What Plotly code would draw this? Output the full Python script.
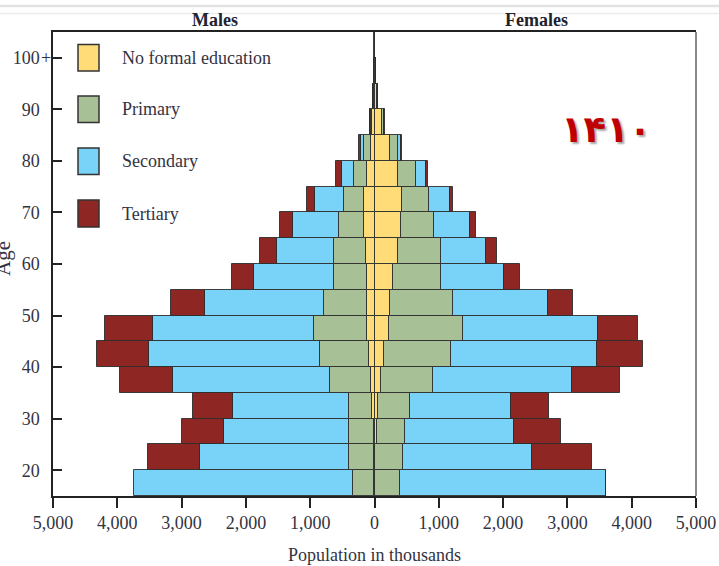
import plotly.graph_objects as go

# ---------------- data (thousands) ----------------
age_groups = ["15-19", "20-24", "25-29", "30-34", "35-39", "40-44", "45-49", "50-54",
              "55-59", "60-64", "65-69", "70-74", "75-79", "80-84", "85-89", "90-94",
              "95-99", "100+"]
age_mid = [17.5, 22.5, 27.5, 32.5, 37.5, 42.5, 47.5, 52.5, 57.5, 62.5, 67.5, 72.5,
           77.5, 82.5, 87.5, 92.5, 97.5, 102.5]

male_none =      [3, 15, 15, 37, 53, 78, 120, 120, 120, 135, 161, 161, 120, 57, 42, 15, 2, 0.5]
male_primary =   [337, 380, 379, 367, 637, 767, 827, 672, 517, 502, 389, 320, 206, 104, 20, 5, 1, 0]
male_secondary = [3400, 2320, 1941, 1792, 2447, 2660, 2500, 1838, 1233, 880, 714, 446, 182, 47, 7, 2, 0, 0]
male_tertiary =  [0, 810, 657, 621, 818, 807, 746, 533, 346, 269, 202, 124, 93, 40, 4, 0, 0, 0]

female_none =      [5, 15, 40, 55, 102, 155, 222, 243, 295, 362, 408, 424, 367, 242, 110, 45, 18, 3]
female_primary =   [395, 435, 435, 498, 814, 1030, 1154, 978, 739, 672, 517, 424, 274, 125, 35, 12, 5, 1]
female_secondary = [3200, 2003, 1690, 1564, 2159, 2272, 2096, 1475, 978, 705, 555, 326, 166, 52, 10, 4, 2, 0]
female_tertiary =  [0, 937, 730, 600, 745, 720, 621, 394, 255, 171, 104, 47, 32, 16, 5, 1, 0, 0]

levels = ["No formal education", "Primary", "Secondary", "Tertiary"]
colors = ["#FFDC78", "#A8C096", "#79D2F7", "#8E2623"]

x_tickvals = [-5000, -4000, -3000, -2000, -1000, 0, 1000, 2000, 3000, 4000, 5000]
x_ticktext = ["5,000", "4,000", "3,000", "2,000", "1,000", "0", "1,000", "2,000", "3,000", "4,000", "5,000"]
y_tickvals = [20, 30, 40, 50, 60, 70, 80, 90, 100]
y_ticktext = ["20", "30", "40", "50", "60", "70", "80", "90", "100"]
top_suffix = "+"

year_label = "۱۴۱۰"

# ---------------- figure ----------------
W, H = 719, 566
L, R, T, B = 53, 696, 32, 496
FONT = "Liberation Serif"
TXT = "#33333f"
EDGE = "rgba(45,45,45,0.9)"

def px(x):
    return (x - L) / (R - L)

def py(y):
    return (B - y) / (B - T)

fig = go.Figure()
male_sets = [male_none, male_primary, male_secondary, male_tertiary]
female_sets = [female_none, female_primary, female_secondary, female_tertiary]
for name, col, m, f in zip(levels, colors, male_sets, female_sets):
    fig.add_trace(go.Bar(y=age_mid, x=[-v for v in m], orientation="h", width=5,
                         name=name, marker=dict(color=col, line=dict(color=EDGE, width=1)),
                         customdata=age_groups, showlegend=False,
                         hovertemplate="Males %{customdata}: %{x}<extra>" + name + "</extra>"))
    fig.add_trace(go.Bar(y=age_mid, x=f, orientation="h", width=5,
                         name=name, marker=dict(color=col, line=dict(color=EDGE, width=1)),
                         customdata=age_groups, showlegend=False,
                         hovertemplate="Females %{customdata}: %{x}<extra>" + name + "</extra>"))

shapes = []
annotations = []
# manual legend
leg_y = [(44.5, 71), (96, 122.5), (148, 174.5), (200, 227)]
for (y0, y1), name, col in zip(leg_y, levels, colors):
    shapes.append(dict(type="rect", xref="paper", yref="paper",
                       x0=px(78), x1=px(99), y0=py(y1), y1=py(y0),
                       fillcolor=col, line=dict(color="#333333", width=1.5)))
    annotations.append(dict(xref="paper", yref="paper", x=px(120), y=py((y0 + y1) / 2),
                            text=name, showarrow=False, xanchor="left", yanchor="middle",
                            font=dict(family=FONT, size=18, color=TXT)))

# right frame (gray)
shapes.append(dict(type="line", xref="paper", yref="paper", x0=1, x1=1, y0=0, y1=1,
                   line=dict(color="#8a8a8a", width=2)))
# faint page lines at top
shapes.append(dict(type="line", xref="paper", yref="paper", x0=px(0), x1=px(719),
                   y0=py(6), y1=py(6), line=dict(color="#e2e2e2", width=2.5)))
shapes.append(dict(type="line", xref="paper", yref="paper", x0=px(0), x1=px(719),
                   y0=py(13.5), y1=py(13.5), line=dict(color="#ececec", width=1.5)))

annotations += [
    dict(xref="paper", yref="y", x=px(41), y=100, text=top_suffix, showarrow=False,
         xanchor="left", yanchor="middle", xshift=-2,
         font=dict(family=FONT, size=18, color=TXT)),
    dict(xref="paper", yref="paper", x=px(215), y=py(20), text="<b>Males</b>", showarrow=False,
         font=dict(family=FONT, size=18, color="#222230"), xanchor="center", yanchor="middle"),
    dict(xref="paper", yref="paper", x=px(536), y=py(20), text="<b>Females</b>", showarrow=False,
         font=dict(family=FONT, size=18, color="#222230"), xanchor="center", yanchor="middle"),
    dict(xref="paper", yref="paper", x=px(374), y=py(555), text="Population in thousands",
         showarrow=False, font=dict(family=FONT, size=18, color=TXT),
         xanchor="center", yanchor="middle"),
    dict(xref="paper", yref="paper", x=px(3), y=py(259), text="Age", textangle=-90,
         showarrow=False, font=dict(family=FONT, size=21, color=TXT),
         xanchor="center", yanchor="middle"),
    dict(xref="paper", yref="paper", x=px(606), y=py(130), text="<b>" + year_label + "</b>",
         showarrow=False, xanchor="center", yanchor="middle",
         font=dict(family="DejaVu Sans", size=37, color="#C00000",
                   shadow="2px 2px 2px rgba(0,0,0,0.35)")),
]

fig.update_layout(
    width=W, height=H,
    margin=dict(l=L, r=W - R, t=T, b=H - B, pad=0, autoexpand=False),
    barmode="relative", bargap=0,
    paper_bgcolor="white", plot_bgcolor="white",
    font=dict(family=FONT, size=18, color=TXT),
    shapes=shapes, annotations=annotations,
    xaxis=dict(range=[-5000, 5000], tickvals=x_tickvals, ticktext=x_ticktext,
               showgrid=False, zeroline=True, zerolinecolor="#555555", zerolinewidth=1,
               showline=True, linecolor="#222222", linewidth=1.5, mirror=True,
               ticks="outside", ticklen=10, tickcolor="#222222", tickwidth=1.5,
               automargin=False,
               tickfont=dict(family=FONT, size=18, color=TXT), fixedrange=True),
    yaxis=dict(range=[15, 105], tickvals=y_tickvals, ticktext=y_ticktext,
               showgrid=False, zeroline=False,
               showline=True, linecolor="#222222", linewidth=1.5, mirror=False,
               ticks="inside", ticklen=9, tickcolor="#222222", tickwidth=1.5,
               ticklabelstandoff=8, automargin=False,
               tickfont=dict(family=FONT, size=18, color=TXT), fixedrange=True),
)

fig.write_html("out.html", config={"displayModeBar": False},
               post_script="document.body.style.margin='0';document.body.style.overflow='hidden';")
